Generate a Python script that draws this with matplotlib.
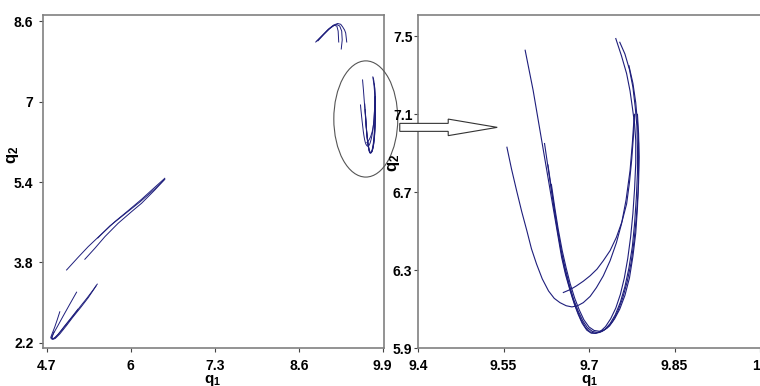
import matplotlib
matplotlib.use('Agg')
import matplotlib.pyplot as plt
from matplotlib.patches import Ellipse, FancyArrow

plt.rcParams['font.family'] = ['Liberation Sans', 'DejaVu Sans']
plt.rcParams['mathtext.fontset'] = 'custom'
plt.rcParams['mathtext.bf'] = 'Liberation Sans:bold'
plt.rcParams['mathtext.rm'] = 'Liberation Sans:bold'

# ---- curves (q1, q2) ----
# bottom-left cluster
bl1_x = [5.16, 5.05, 4.95, 4.86, 4.79, 4.77, 4.79, 4.84, 4.92, 5.02, 5.12, 5.22, 5.32, 5.42, 5.48]
bl1_y = [3.21, 2.96, 2.73, 2.52, 2.36, 2.31, 2.28, 2.32, 2.44, 2.60, 2.76, 2.93, 3.09, 3.26, 3.37]
bl2_x = [4.90, 4.86, 4.82, 4.78, 4.76, 4.77, 4.81, 4.88, 4.97, 5.07, 5.18]
bl2_y = [2.82, 2.66, 2.51, 2.38, 2.31, 2.28, 2.29, 2.38, 2.53, 2.69, 2.87]
bl3_x = [4.81, 4.79, 4.78, 4.79, 4.83, 4.90, 5.00, 5.10, 5.22, 5.34, 5.46]
bl3_y = [2.42, 2.35, 2.30, 2.27, 2.29, 2.38, 2.54, 2.71, 2.90, 3.10, 3.33]

# middle strand
ms1_x = [5.005, 5.184, 5.339, 5.547, 5.752, 5.958, 6.166, 6.371, 6.526]
ms1_y = [3.651, 3.903, 4.114, 4.367, 4.611, 4.830, 5.056, 5.295, 5.474]
ms2_x = [5.288, 5.443, 5.598, 5.803, 6.011, 6.166, 6.371, 6.526]
ms2_y = [3.864, 4.082, 4.313, 4.579, 4.810, 4.977, 5.241, 5.454]
ms3_x = [5.489, 5.675, 5.907, 6.139, 6.371, 6.511]
ms3_y = [4.287, 4.526, 4.764, 5.002, 5.261, 5.440]

# top arch
ar1_x = [8.863, 8.956, 9.049, 9.126, 9.188, 9.234, 9.265, 9.273, 9.258]
ar1_y = [8.183, 8.302, 8.421, 8.501, 8.531, 8.501, 8.401, 8.223, 8.044]
ar2_x = [8.880, 8.970, 9.060, 9.140, 9.203, 9.250, 9.281, 9.310, 9.327, 9.343]
ar2_y = [8.200, 8.320, 8.440, 8.520, 8.551, 8.535, 8.481, 8.420, 8.362, 8.183]
ar3_x = [8.900, 8.990, 9.080, 9.150, 9.190, 9.210, 9.219]
ar3_y = [8.210, 8.335, 8.450, 8.515, 8.500, 8.400, 8.183]

# V-shaped loops (inside the ellipse, zoomed on the right)
lpA_x = [9.556, 9.564, 9.573, 9.582, 9.591, 9.599, 9.608, 9.618, 9.629, 9.639, 9.649, 9.660,
         9.670, 9.680, 9.690, 9.702, 9.713, 9.725, 9.737, 9.748, 9.757, 9.765, 9.772, 9.776,
         9.779]
lpA_y = [6.931, 6.82, 6.708, 6.60, 6.502, 6.41, 6.331, 6.255, 6.193, 6.155, 6.133, 6.117,
         6.111, 6.117, 6.133, 6.165, 6.210, 6.27, 6.348, 6.44, 6.537, 6.66, 6.811, 6.95,
         7.08]
lpB_x = [9.588, 9.595, 9.602, 9.608, 9.614, 9.620, 9.626, 9.633, 9.640, 9.646, 9.652, 9.659,
         9.667, 9.674, 9.681, 9.688, 9.696, 9.704, 9.712, 9.720, 9.729, 9.738, 9.747, 9.755,
         9.762, 9.768, 9.773, 9.777, 9.780, 9.782, 9.782, 9.780, 9.776, 9.772, 9.766, 9.757,
         9.747]
lpB_y = [7.429, 7.326, 7.223, 7.12, 7.017, 6.914, 6.811, 6.69, 6.571, 6.468, 6.365, 6.275,
         6.193, 6.128, 6.073, 6.027, 5.992, 5.976, 5.975, 5.985, 6.01, 6.05, 6.105, 6.175,
         6.26, 6.36, 6.47, 6.59, 6.72, 6.85, 6.966, 7.05, 7.137, 7.22, 7.309, 7.40,
         7.489]
lpC_x = [9.655, 9.667, 9.678, 9.690, 9.702, 9.714, 9.725, 9.737, 9.748, 9.758, 9.766, 9.771,
         9.775, 9.778, 9.780]
lpC_y = [6.185, 6.20, 6.219, 6.243, 6.271, 6.305, 6.348, 6.40, 6.468, 6.55, 6.640, 6.75,
         6.87, 6.99, 7.10]
lpD_x = [9.622, 9.627, 9.633, 9.639, 9.645, 9.651, 9.657, 9.664, 9.671, 9.678, 9.686, 9.694,
         9.702, 9.710, 9.719, 9.728, 9.737, 9.746, 9.755, 9.763, 9.770, 9.776, 9.780, 9.783,
         9.785, 9.785, 9.784, 9.781, 9.777, 9.771, 9.763, 9.754]
lpD_y = [6.95, 6.85, 6.73, 6.61, 6.50, 6.40, 6.31, 6.23, 6.16, 6.10, 6.045, 6.005,
         5.983, 5.976, 5.98, 5.996, 6.025, 6.07, 6.135, 6.215, 6.31, 6.42, 6.54, 6.67,
         6.80, 6.93, 7.04, 7.14, 7.24, 7.33, 7.41, 7.47]
lpE_x = [9.628, 9.634, 9.640, 9.646, 9.652, 9.659, 9.666, 9.673, 9.681, 9.689, 9.697, 9.706,
         9.714, 9.723, 9.732, 9.741, 9.750, 9.759, 9.767, 9.774, 9.779, 9.783, 9.786, 9.787,
         9.787, 9.785, 9.782, 9.777, 9.770]
lpE_y = [6.84, 6.72, 6.60, 6.49, 6.39, 6.30, 6.22, 6.15, 6.09, 6.04, 6.005, 5.985,
         5.98, 5.985, 6.003, 6.035, 6.085, 6.155, 6.24, 6.34, 6.45, 6.57, 6.70, 6.83,
         6.95, 7.06, 7.16, 7.26, 7.35]
lpF_x = [9.634, 9.640, 9.646, 9.653, 9.660, 9.667, 9.675, 9.683, 9.691, 9.700, 9.709, 9.718,
         9.727, 9.736, 9.745, 9.754, 9.763, 9.771, 9.777, 9.782, 9.785, 9.787, 9.788, 9.787,
         9.785]
lpF_y = [6.74, 6.62, 6.51, 6.40, 6.31, 6.23, 6.155, 6.095, 6.045, 6.008, 5.99, 5.986,
         5.993, 6.013, 6.05, 6.10, 6.17, 6.26, 6.37, 6.49, 6.62, 6.75, 6.88, 7.00,
         7.10]

left_xticks = [4.7, 6, 7.3, 8.6, 9.9]
left_yticks = [2.2, 3.8, 5.4, 7, 8.6]
right_xticks = [9.4, 9.55, 9.7, 9.85, 10]
right_yticks = [5.9, 6.3, 6.7, 7.1, 7.5]

single = [(bl1_x, bl1_y), (bl2_x, bl2_y), (bl3_x, bl3_y),
          (ms1_x, ms1_y), (ms2_x, ms2_y), (ms3_x, ms3_y),
          (ar1_x, ar1_y), (ar2_x, ar2_y), (ar3_x, ar3_y)]
loops = [(lpA_x, lpA_y), (lpB_x, lpB_y), (lpC_x, lpC_y),
         (lpD_x, lpD_y), (lpE_x, lpE_y), (lpF_x, lpF_y)]

line_col = '#1e1e7c'
spine_col = '#808080'

fig = plt.figure(figsize=(7.6, 3.86), dpi=100)
ax1 = fig.add_axes([43 / 760, 38 / 386, 341 / 760, 333 / 386])
ax2 = fig.add_axes([418 / 760, 38 / 386, 353.4 / 760, 333 / 386])

for xs, ys in single + loops:
    ax1.plot(xs, ys, color=line_col, lw=0.7)
for xs, ys in loops:
    ax2.plot(xs, ys, color=line_col, lw=0.8)

ax1.set_xlim(4.64, 9.92)
ax1.set_ylim(2.10, 8.72)
ax2.set_xlim(9.4, 10.02)
ax2.set_ylim(5.9, 7.61)

ax1.set_xticks(left_xticks)
ax1.set_xticklabels(['4.7', '6', '7.3', '8.6', '9.9'])
ax1.set_yticks(left_yticks)
ax1.set_yticklabels(['2.2', '3.8', '5.4', '7', '8.6'])
ax2.set_xticks(right_xticks)
ax2.set_xticklabels(['9.4', '9.55', '9.7', '9.85', '10'])
ax2.set_yticks(right_yticks)
ax2.set_yticklabels(['5.9', '6.3', '6.7', '7.1', '7.5'])

for ax in (ax1, ax2):
    for s in ax.spines.values():
        s.set_color(spine_col)
        s.set_linewidth(1.2)
    ax.tick_params(axis='x', length=3, width=0.8, color='#444444', pad=5,
                   labelsize=10)
    ax.set_xlabel(r'$\mathbf{q_1}$', fontsize=11)
    ax.set_ylabel(r'$\mathbf{q_2}$', fontsize=12)
    for lab in ax.get_xticklabels() + ax.get_yticklabels():
        lab.set_fontweight('bold')
ax1.tick_params(axis='y', length=3, width=0.8, color='#444444', pad=4, labelsize=10)
ax2.tick_params(axis='y', length=3, width=0.8, color='#444444', pad=1, labelsize=10)

ax1.xaxis.set_label_coords(0.4985, -0.076)
ax2.xaxis.set_label_coords(0.484, -0.076)
ax1.yaxis.set_label_coords(-0.065, 0.58)
ax2.yaxis.set_label_coords(-0.045, 0.556)

# ellipse marking the zoomed region
ell = Ellipse((9.638, 6.653), 0.99, 2.31, fill=False, edgecolor='#555555',
              lw=0.8, clip_on=False, zorder=5)
ax1.add_patch(ell)

# hollow arrow pointing to the zoom
arr = FancyArrow(9.368, 7.033, 0.171, 0, width=0.041, head_width=0.085,
                 head_length=0.086, length_includes_head=True, facecolor='white',
                 edgecolor='#333333', lw=0.8, clip_on=False, zorder=6)
ax2.add_patch(arr)

plt.savefig('out.png', dpi=100)
plt.close()
